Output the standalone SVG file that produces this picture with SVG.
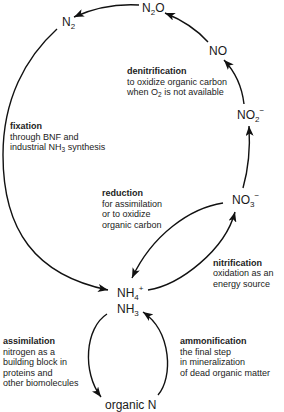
<svg xmlns="http://www.w3.org/2000/svg" width="284" height="412" viewBox="0 0 284 412">
<style>
.n{font-family:"Liberation Sans",Arial,sans-serif;font-size:12px;fill:#1a1a1a}
.l{font-family:"Liberation Sans",Arial,sans-serif;font-size:9px;fill:#222}
.b{font-weight:bold}
.e{fill:none;stroke:#111;stroke-width:1.4;marker-end:url(#ah)}
</style>
<defs>
<marker id="ah" viewBox="0 0 10 8" refX="10" refY="4" markerWidth="10" markerHeight="8" markerUnits="userSpaceOnUse" orient="auto">
<path d="M0,0 L10,4 L0,8 L2.5,4 Z" fill="#111"/>
</marker>
</defs>
<rect width="284" height="412" fill="#fff"/>
<g id="connectors">
<path class="e" d="M139,5 Q105,3 74,17"/>
<path class="e" d="M208,42 Q192,24 165,13"/>
<path class="e" d="M244,104 Q241,78 224,60"/>
<path class="e" d="M243,188 Q251,160 249,126"/>
<path class="e" d="M57,29 C25,58 3,100 3,155 C3,230 35,275 108,290"/>
<path class="e" d="M223,203 C190,208 152,235 132,278"/>
<path class="e" d="M148,290 C180,285 225,250 235,212"/>
<path class="e" d="M107,314 C85,328 82,372 101,397"/>
<path class="e" d="M158,395 C173,378 172,332 143,312"/>
</g>
<g id="N2"><text class="n" x="62" y="26">N<tspan font-size="8" dy="3">2</tspan></text></g>
<g id="N2O"><text class="n" x="142" y="12">N<tspan font-size="8" dy="3">2</tspan><tspan dy="-3">O</tspan></text></g>
<g id="NO"><text class="n" x="209" y="55">NO</text></g>
<g id="NO2"><text class="n" x="237" y="119">NO<tspan font-size="8" dy="3">2</tspan><tspan font-size="8" dy="-9">−</tspan></text></g>
<g id="NO3"><text class="n" x="232" y="204">NO<tspan font-size="8" dy="3">3</tspan><tspan font-size="8" dy="-9">−</tspan></text></g>
<g id="NH4"><text class="n" x="117" y="297">NH<tspan font-size="8" dy="3">4</tspan><tspan font-size="8" dy="-9">+</tspan></text>
<text class="n" x="117" y="313">NH<tspan font-size="8" dy="3">3</tspan></text></g>
<g id="organicN"><text class="n" x="105" y="409">organic N</text></g>
<g id="label-denitrification">
<text class="l b" x="127" y="74">denitrification</text>
<text class="l" x="127" y="84.5">to oxidize organic carbon</text>
<text class="l" x="127" y="95">when O<tspan font-size="6.5" dy="2">2</tspan><tspan dy="-2"> is not available</tspan></text>
</g>
<g id="label-fixation">
<text class="l b" x="10" y="129">fixation</text>
<text class="l" x="10" y="139.5">through BNF and</text>
<text class="l" x="10" y="150">industrial NH<tspan font-size="6.5" dy="2">3</tspan><tspan dy="-2"> synthesis</tspan></text>
</g>
<g id="label-reduction">
<text class="l b" x="102" y="196">reduction</text>
<text class="l" x="102" y="206.5">for assimilation</text>
<text class="l" x="102" y="217">or to oxidize</text>
<text class="l" x="102" y="227.5">organic carbon</text>
</g>
<g id="label-nitrification">
<text class="l b" x="213" y="265.5">nitrification</text>
<text class="l" x="213" y="276">oxidation as an</text>
<text class="l" x="213" y="286.5">energy source</text>
</g>
<g id="label-assimilation">
<text class="l b" x="3" y="344">assimilation</text>
<text class="l" x="3" y="354.5">nitrogen as a</text>
<text class="l" x="3" y="365">building block in</text>
<text class="l" x="3" y="375.5">proteins and</text>
<text class="l" x="3" y="386">other biomolecules</text>
</g>
<g id="label-ammonification">
<text class="l b" x="180" y="344">ammonification</text>
<text class="l" x="180" y="354.5">the final step</text>
<text class="l" x="180" y="365">in mineralization</text>
<text class="l" x="180" y="375.5">of dead organic matter</text>
</g>
</svg>
